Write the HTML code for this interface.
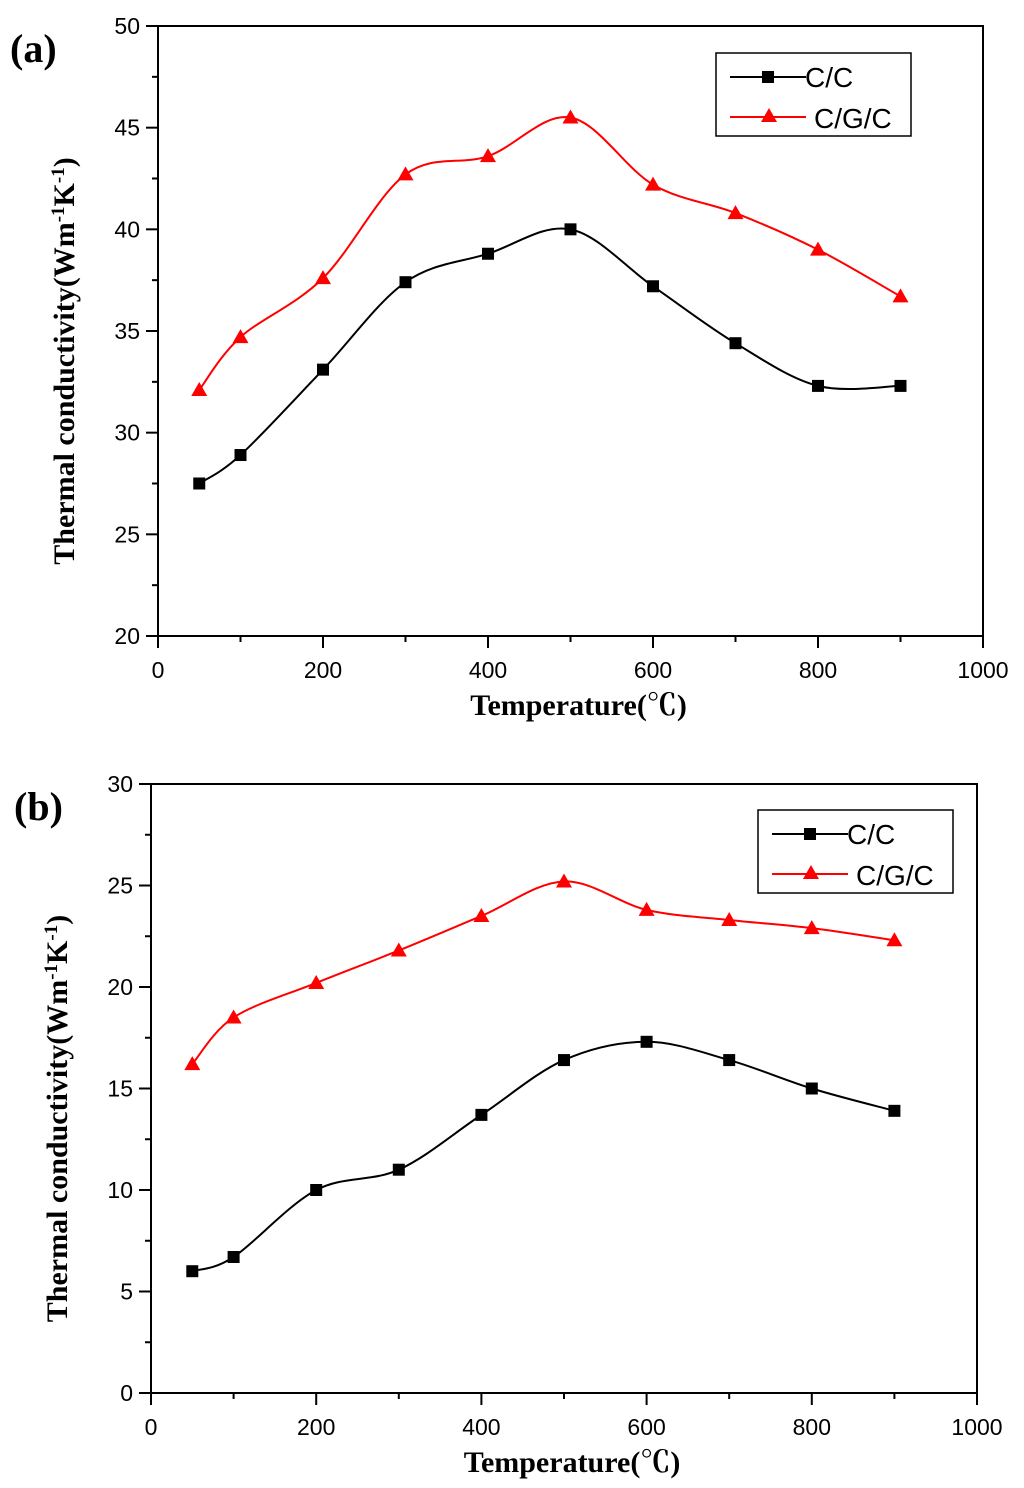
<!DOCTYPE html>
<html><head><meta charset="utf-8">
<style>
html,body{margin:0;padding:0;background:#fff;}
svg{display:block;}
.tk{font-family:"Liberation Sans",sans-serif;font-size:23px;fill:#000;}
.tt{font-family:"Liberation Serif","Noto Serif CJK SC",serif;font-size:30px;font-weight:bold;fill:#000;}
.lg{font-family:"Liberation Sans",sans-serif;font-size:28px;fill:#000;}
</style></head>
<body>
<svg id="s" width="1024" height="1488" viewBox="0 0 1024 1488" xmlns="http://www.w3.org/2000/svg"></svg>
<script>
const temps = [50,100,200,300,400,500,600,700,800,900];
const aCC  = [27.5,28.9,33.1,37.4,38.8,40.0,37.2,34.4,32.3,32.3];
const aCGC = [32.1,34.7,37.6,42.7,43.6,45.5,42.2,40.8,39.0,36.7];
const bCC  = [6.0,6.7,10.0,11.0,13.7,16.4,17.3,16.4,15.0,13.9];
const bCGC = [16.2,18.5,20.2,21.8,23.5,25.2,23.8,23.3,22.9,22.3];
const xTicks = [0,200,400,600,800,1000];
const aYTicks = [20,25,30,35,40,45,50];
const bYTicks = [0,5,10,15,20,25,30];
const seriesNames = ["C/C","C/G/C"];

const svg = document.getElementById('s');
const NS = "http://www.w3.org/2000/svg";
function el(tag, attrs, parent){
  const e = document.createElementNS(NS, tag);
  for (const k in attrs) e.setAttribute(k, attrs[k]);
  (parent||svg).appendChild(e);
  return e;
}
function spline(pts){
  let d = `M${pts[0][0]},${pts[0][1]}`;
  for (let i=0;i<pts.length-1;i++){
    const p0=pts[Math.max(i-1,0)],p1=pts[i],p2=pts[i+1],p3=pts[Math.min(i+2,pts.length-1)];
    const c1=[p1[0]+(p2[0]-p0[0])/6,p1[1]+(p2[1]-p0[1])/6];
    const c2=[p2[0]-(p3[0]-p1[0])/6,p2[1]-(p3[1]-p1[1])/6];
    d+=` C${c1[0]},${c1[1]} ${c2[0]},${c2[1]} ${p2[0]},${p2[1]}`;
  }
  return d;
}
function panel(cfg){
  const g = el('g',{});
  
  
  const {L,R,T,B,ymin,ymax,yTicks} = cfg;
  const X = v => L + (v-0)/(1000)*(R-L);
  const Y = v => B - (v-ymin)/(ymax-ymin)*(B-T);
  const frame = el('rect',{x:L,y:T,width:R-L,height:B-T,fill:'none',stroke:'#000','stroke-width':2},g);
  
  
  for (let i=0;i<xTicks.length;i++){
    const v=xTicks[i];
    el('line',{x1:X(v),x2:X(v),y1:B,y2:B+12,stroke:'#000','stroke-width':2},g);
    if(i<xTicks.length-1) el('line',{x1:X(v+100),x2:X(v+100),y1:B,y2:B+6,stroke:'#000','stroke-width':2},g);
    const t=el('text',{x:X(v),y:B+42,'text-anchor':'middle',class:'tk'},g);
    t.textContent=v;
    
    
  }
  const step=yTicks[1]-yTicks[0];
  for (let i=0;i<yTicks.length;i++){
    const v=yTicks[i];
    el('line',{x1:L-12,x2:L,y1:Y(v),y2:Y(v),stroke:'#000','stroke-width':2},g);
    if(i<yTicks.length-1) el('line',{x1:L-6,x2:L,y1:Y(v+step/2),y2:Y(v+step/2),stroke:'#000','stroke-width':2},g);
    const t=el('text',{x:L-18,y:Y(v)+8,'text-anchor':'end',class:'tk'},g);
    t.textContent=v;
    
    
  }
  const xt=el('text',{x:(L+R)/2+8,y:B+79,'text-anchor':'middle',class:'tt'},g);
  xt.textContent='Temperature(℃)';
  
  
  const yt=el('text',{transform:`translate(${L-84},${(T+B)/2+30}) rotate(-90)`,'text-anchor':'middle',class:'tt'},g);
  yt.innerHTML='Thermal conductivity(Wm<tspan dy="-10" font-size="19">-1</tspan><tspan dy="10">K</tspan><tspan dy="-10" font-size="19">-1</tspan><tspan dy="10">)</tspan>';
  
  
  const lab=el('text',{x:cfg.labX,y:cfg.labY,class:'tt',style:'font-size:40px'},g);
  lab.textContent=cfg.label;
  
  
  const datas=[[cfg.cc,'#000','sq'],[cfg.cgc,'#ff0000','tri']];
  datas.forEach(([arr,col,m],si)=>{
    const pts=arr.map((v,i)=>[X(temps[i]),Y(v)]);
    const p=el('path',{d:spline(pts),fill:'none',stroke:col,'stroke-width':2},g);
    
    
    pts.forEach(([x,y])=>{
      let mk;
      if(m==='sq') mk=el('rect',{x:x-6,y:y-6,width:12,height:12,fill:col},g);
      else mk=el('polygon',{points:`${x},${y-8} ${x-8},${y+6} ${x+8},${y+6}`,fill:col},g);
      
      
    });
  });
  const lx=cfg.legX, ly=cfg.legY;
  const lgb=el('rect',{x:lx,y:ly,width:195,height:83,fill:'#fff',stroke:'#000','stroke-width':1.5},g);
  
  
  el('line',{x1:lx+14,x2:lx+90,y1:ly+24,y2:ly+24,stroke:'#000','stroke-width':2},g);
  el('rect',{x:lx+46,y:ly+18,width:12,height:12,fill:'#000'},g);
  el('line',{x1:lx+14,x2:lx+90,y1:ly+64,y2:ly+64,stroke:'#ff0000','stroke-width':2},g);
  el('polygon',{points:`${lx+53},${ly+55} ${lx+45},${ly+69} ${lx+61},${ly+69}`,fill:'#ff0000'},g);
  const t1=el('text',{x:lx+89,y:ly+34,class:'lg'},g); t1.textContent=seriesNames[0];
  
  
  const t2=el('text',{x:lx+98,y:ly+75,class:'lg'},g); t2.textContent=seriesNames[1];
  
  
}
panel({name:'panel-a',L:158,R:983,T:26,B:636,ymin:20,ymax:50,yTicks:aYTicks,cc:aCC,cgc:aCGC,label:'(a)',labX:10,labY:62,legX:716,legY:53});
panel({name:'panel-b',L:151,R:977,T:784,B:1393,ymin:0,ymax:30,yTicks:bYTicks,cc:bCC,cgc:bCGC,label:'(b)',labX:14,labY:820,legX:758,legY:810});
</script>
</body></html>
